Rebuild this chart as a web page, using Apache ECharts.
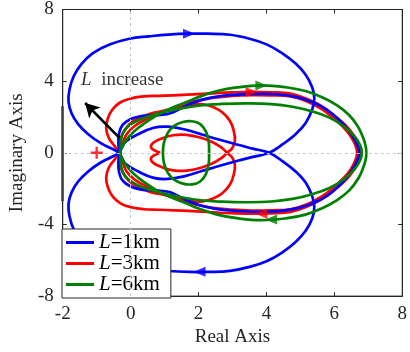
<!DOCTYPE html>
<html>
<head>
<meta charset="utf-8">
<script src="https://cdn.jsdelivr.net/npm/echarts@6/dist/echarts.min.js"></script>
<style>
html,body{margin:0;padding:0;background:#fff;}
#chart{width:410px;height:352px;}
</style>
</head>
<body>
<div id="chart"></div>
<script>
// Nyquist loci for three cable lengths. Each stroke lists points [Re, Im] of one
// frequency branch; the mirrored branch is its complex conjugate.
var legendNames = ['L=1km', 'L=3km', 'L=6km'];

// L = 1 km
var blueMain = [[-0.33,0],[-0.36,0.54],[-0.34,1.09],[-0.24,1.54],[-0.01,1.87],[0.28,2.04],[0.56,2.09],[0.88,2.12],[1.17,2.21],[1.46,2.46],[1.77,2.74],[2.12,2.97],[2.55,3.14],[3.13,3.25],[3.7,3.29],[4.28,3.27],[4.86,3.12],[5.35,2.83],[5.78,2.4],[6.12,1.88],[6.4,1.3],[6.6,0.72],[6.7,0.3],[6.73,0]];
var blueInner = [[-0.33,0],[-0.25,0.3],[-0.15,0.62],[0.2,1.02],[0.68,1.4],[1.1,1.46],[1.6,1.3],[2.1,1.02],[2.6,0.74],[3.13,0.46],[3.6,0.23],[4.08,0]];
var blueOuter = [[4.08,0],[4.48,0.48],[4.86,1.04],[5.15,1.65],[5.35,2.43],[5.41,3.04],[5.35,3.65],[5.15,4.37],[4.86,4.98],[4.48,5.54],[4.02,6.04],[3.5,6.37],[2.93,6.59],[2.27,6.65],[1.72,6.65],[1.11,6.6],[0.54,6.5],[-0.04,6.37],[-0.62,6.04],[-1.11,5.56],[-1.45,4.95],[-1.68,4.26],[-1.8,3.54],[-1.83,2.87],[-1.74,2.21],[-1.54,1.59],[-1.25,1.04],[-0.88,0.54],[-0.53,0.21],[-0.33,0]];

// L = 3 km
var redOuter = [[-0.33,0],[-0.47,0.37],[-0.64,0.82],[-0.72,1.37],[-0.67,1.93],[-0.53,2.43],[-0.3,2.82],[0.02,3.04],[0.39,3.15],[0.82,3.18],[1.26,3.21],[1.83,3.26],[2.41,3.32],[2.98,3.37],[3.56,3.4],[4.14,3.38],[4.71,3.3],[5.2,3.0],[5.67,2.55],[6.05,2.0],[6.35,1.5],[6.58,0.95],[6.72,0.45],[6.77,0]];
var redBand = [[-0.33,0],[-0.33,0.37],[-0.29,0.82],[-0.16,1.32],[0.04,1.71],[0.3,1.98],[0.62,2.21],[0.97,2.34],[1.4,2.59],[1.89,2.87],[2.41,3.07],[2.98,3.17],[3.56,3.22],[4.14,3.21],[4.71,3.15],[5.2,2.87],[5.62,2.45],[5.98,1.93],[6.27,1.42],[6.49,0.9],[6.62,0.42],[6.67,0]];
var redLoop = [[-0.33,0],[-0.24,0.48],[-0.12,1.04],[0.11,1.48],[0.45,1.87],[0.88,2.21],[1.4,2.54],[1.83,2.71],[2.12,2.71],[2.41,2.57],[2.7,2.26],[2.93,1.76],[3.04,1.2],[3.07,0.65],[2.99,0.26],[2.84,0],[2.67,-0.3],[2.4,-0.6],[2.05,-0.85],[1.65,-1.0],[1.25,-0.98],[0.92,-0.8],[0.66,-0.55],[0.6,-0.3],[0.72,-0.12],[0.87,0]];

// L = 6 km
var greenOuter = [[-0.33,0],[-0.21,0.48],[-0.01,0.98],[0.25,1.43],[0.54,1.82],[0.88,2.21],[1.26,2.54],[1.63,2.82],[2.06,3.15],[2.55,3.45],[3.13,3.65],[3.85,3.76],[4.57,3.66],[5.15,3.45],[5.64,3.1],[6.07,2.66],[6.44,2.1],[6.7,1.45],[6.86,0.78],[6.93,0.3],[6.94,0]];
var greenInner = [[-0.29,0],[-0.29,0.54],[-0.23,1.09],[-0.07,1.48],[0.19,1.79],[0.54,2.04],[0.97,2.27],[1.49,2.48],[2.06,2.65],[2.7,2.73],[3.42,2.76],[4.14,2.72],[4.77,2.57],[5.35,2.31],[5.87,1.95],[6.3,1.45],[6.6,0.9],[6.76,0.42],[6.81,0]];
var greenRing = [[0.95,0],[0.98,0.56],[1.09,1.1],[1.28,1.5],[1.54,1.72],[1.81,1.76],[2.05,1.6],[2.22,1.18],[2.3,0.6],[2.31,0]];

// direction arrows on each locus: [Re, Im, rotation]
var blueArrows = [[1.72,6.65,-90],[2.03,-6.64,90]];
var redArrows = [[3.56,3.4,-90],[3.85,-3.4,90]];
var greenArrows = [[3.85,3.76,-90],[4.14,-3.73,90]];
var criticalPoint = [[-1, 0]];
var trendArrow = [[-0.33,0.83],[-1.34,2.78]];
var trendText = [-1.46, 4.05];
var axisBar = [[-2,-2.7],[-2,2.6]];

function conj(pts) { return pts.map(function (p) { return [p[0], -p[1]]; }); }
// contour out along a branch and back along its conjugate
function loopBack(pts) { return pts.concat(conj(pts).reverse().slice(1)); }

var FONT = 'Liberation Serif';
var colors = {'L=1km': '#0000ff', 'L=3km': '#ff0000', 'L=6km': '#008000'};

// smooth stroke through the listed points, placed with the grid's own axes
function curve(name, pts, closed) {
  return {
    type: 'custom', name: name, coordinateSystem: 'cartesian2d',
    data: pts, encode: {x: 0, y: 1}, z: 3, animation: false, silent: true,
    itemStyle: {color: colors[name]},
    renderItem: function (params, api) {
      if (params.dataIndex !== 0) return null;
      var points = pts.map(function (p) { return api.coord(p); });
      return {
        type: closed ? 'polygon' : 'polyline',
        shape: {points: points, smooth: 0.42},
        style: {fill: 'none', stroke: colors[name], lineWidth: 2.7}
      };
    }
  };
}
function arrows(name, arr) {
  return {
    type: 'scatter', name: name, z: 4, animation: false, silent: true,
    data: arr.map(function (a) { return {value: [a[0], a[1]], symbolRotate: a[2]}; }),
    symbol: 'triangle', symbolSize: [10, 12], itemStyle: {color: colors[name]}
  };
}

// blue: inner branch crosses the axis near 4.1 and runs on into the outer loop
var blueThrough = blueInner.concat(conj(blueOuter).slice(1));

var series = [
  curve('L=3km', loopBack(redOuter)), curve('L=3km', loopBack(redBand)),
  curve('L=3km', redLoop), curve('L=3km', conj(redLoop)),
  curve('L=1km', loopBack(blueMain)), curve('L=1km', blueThrough), curve('L=1km', conj(blueThrough)),
  curve('L=6km', loopBack(greenOuter)), curve('L=6km', loopBack(greenInner)),
  curve('L=6km', loopBack(greenRing).slice(0, -1), true),
  arrows('L=1km', blueArrows), arrows('L=3km', redArrows), arrows('L=6km', greenArrows),
  {
    type: 'scatter', data: criticalPoint, z: 5, animation: false, silent: true,
    symbol: 'path://M4,0H6V4H10V6H6V10H4V6H0V4H4Z', symbolSize: 12,
    itemStyle: {color: '#ff0000'}
  },
  {
    type: 'line', data: [], animation: false, silent: true,
    markLine: {
      silent: true, animation: false, symbol: 'none', label: {show: false},
      lineStyle: {color: '#c8c8c8', type: [3, 3], width: 1},
      data: [[{coord: [-2, 0]}, {coord: [8, 0]}], [{coord: [0, -8]}, {coord: [0, 8]}]]
    }
  },
  {
    type: 'line', data: [], animation: false, silent: true, z: 6,
    markLine: {
      silent: true, animation: false, symbol: 'none', label: {show: false},
      lineStyle: {color: '#3c3c3c', type: 'solid', width: 2.5},
      data: [[{coord: axisBar[0]}, {coord: axisBar[1]}]]
    }
  },
  {
    type: 'line', data: [], animation: false, silent: true, z: 6,
    markLine: {
      silent: true, animation: false, symbol: ['none', 'arrow'], symbolSize: [12, 14], label: {show: false},
      lineStyle: {color: '#000', type: 'solid', width: 2.6},
      data: [[{coord: trendArrow[0]}, {coord: trendArrow[1]}]]
    }
  },
  {
    type: 'scatter', data: [trendText], symbolSize: 0, animation: false, silent: true,
    label: {
      show: true, position: 'right', distance: 0,
      formatter: '{i|L}  increase',
      rich: {i: {fontFamily: FONT, fontStyle: 'italic', fontSize: 19, color: '#000'}},
      fontFamily: FONT, fontSize: 19, color: '#000'
    }
  }
];

var chart = echarts.init(document.getElementById('chart'), null, {renderer: 'canvas'});
chart.setOption({
  animation: false,
  grid: {left: 57, top: 9, width: 347, height: 288, show: true, borderColor: '#262626', borderWidth: 1, backgroundColor: '#fff'},
  legend: {
    data: legendNames, orient: 'vertical', left: 62, top: 229, itemGap: 0,
    itemWidth: 28, itemHeight: 3, icon: 'rect',
    backgroundColor: '#fff', borderColor: '#262626', borderWidth: 1, padding: [3, 11, 3, 4],
    formatter: function (n) { return '{i|L}' + n.slice(1); },
    textStyle: {fontFamily: FONT, fontSize: 21, lineHeight: 19, color: '#000', rich: {i: {fontFamily: FONT, fontStyle: 'italic', fontSize: 21, lineHeight: 19}}}
  },
  xAxis: [{
    type: 'value', min: -2, max: 8, interval: 2,
    name: 'Real Axis', nameLocation: 'middle', nameGap: 25,
    nameTextStyle: {fontFamily: FONT, fontSize: 19, color: '#262626'},
    axisLine: {show: true, onZero: false, lineStyle: {color: '#262626'}},
    axisTick: {inside: true, length: 4, lineStyle: {color: '#262626'}},
    axisLabel: {fontFamily: FONT, fontSize: 19, color: '#262626', margin: 8},
    splitLine: {show: false}
  }, {
    type: 'value', min: -2, max: 8, interval: 2, position: 'top',
    axisLine: {show: true, onZero: false, lineStyle: {color: '#262626'}},
    axisTick: {inside: true, length: 4, lineStyle: {color: '#262626'}},
    axisLabel: {show: false}, splitLine: {show: false}
  }],
  yAxis: [{
    type: 'value', min: -8, max: 8, interval: 4,
    name: 'Imaginary Axis', nameLocation: 'middle', nameGap: 33,
    nameTextStyle: {fontFamily: FONT, fontSize: 19, color: '#262626'},
    axisLine: {show: true, onZero: false, lineStyle: {color: '#262626'}},
    axisTick: {inside: true, length: 4, lineStyle: {color: '#262626'}},
    axisLabel: {fontFamily: FONT, fontSize: 19, color: '#262626', margin: 9},
    splitLine: {show: false}
  }, {
    type: 'value', min: -8, max: 8, interval: 4, position: 'right',
    axisLine: {show: true, onZero: false, lineStyle: {color: '#262626'}},
    axisTick: {inside: true, length: 4, lineStyle: {color: '#262626'}},
    axisLabel: {show: false}, splitLine: {show: false}
  }],
  series: series
});
</script>
</body>
</html>
